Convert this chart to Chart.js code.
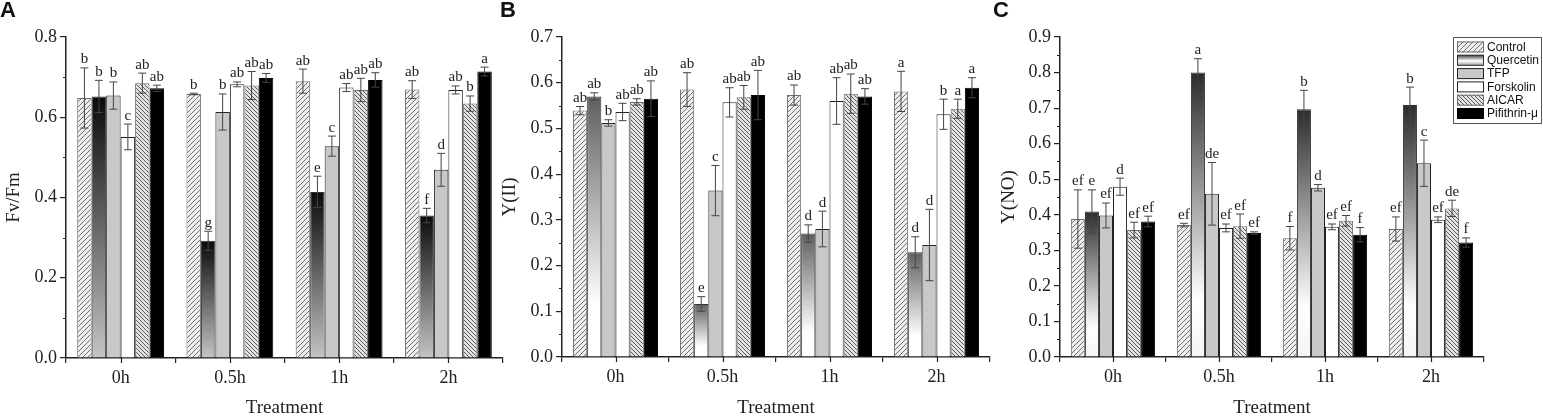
<!DOCTYPE html>
<html>
<head>
<meta charset="utf-8">
<script src="https://cdn.jsdelivr.net/npm/chart.js@4"></script>
<style>
  body { margin: 0; background: #fff; }
  #wrap { position: relative; width: 1543px; height: 419px; overflow: hidden; }
  .panel { position: absolute; top: 0; height: 419px; }
  .tag { position: absolute; top: -3px; font: bold 22px "Liberation Sans", Arial, sans-serif; color: #111; }
</style>
</head>
<body>
<div id="wrap">
  <div class="panel" style="left:0;width:510px"><canvas id="chartA"></canvas></div>
  <div class="panel" style="left:495px;width:505px"><canvas id="chartB"></canvas></div>
  <div class="panel" style="left:995px;width:548px"><canvas id="chartC"></canvas></div>
  <div class="tag" style="left:0">A</div>
  <div class="tag" style="left:500px">B</div>
  <div class="tag" style="left:993px">C</div>
</div>
<script>
const treatments = ['0h', '0.5h', '1h', '2h']
const groups = ['Control', 'Quercetin', 'TFP', 'Forskolin', 'AICAR', 'Pifithrin-μ']

// rows follow groups, columns follow treatments
const fvfmMean = [
    [0.648, 0.658, 0.690, 0.669],
    [0.652, 0.292, 0.414, 0.355],
    [0.654, 0.613, 0.528, 0.469],
    [0.551, 0.682, 0.674, 0.668],
    [0.685, 0.679, 0.668, 0.634],
    [0.672, 0.698, 0.693, 0.714],
]
const fvfmErr = [
    [0.075, 0.002, 0.030, 0.022],
    [0.040, 0.024, 0.039, 0.018],
    [0.034, 0.045, 0.025, 0.041],
    [0.032, 0.006, 0.010, 0.010],
    [0.025, 0.035, 0.029, 0.019],
    [0.008, 0.011, 0.018, 0.011],
]
const fvfmLetters = [
    ['b', 'b', 'ab', 'ab'],
    ['b', 'g', 'e', 'f'],
    ['b', 'b', 'c', 'd'],
    ['c', 'ab', 'ab', 'ab'],
    ['ab', 'ab', 'ab', 'b'],
    ['ab', 'ab', 'ab', 'a'],
]

const yiiMean = [
    [0.539, 0.585, 0.573, 0.581],
    [0.570, 0.116, 0.270, 0.229],
    [0.512, 0.364, 0.280, 0.245],
    [0.536, 0.557, 0.560, 0.531],
    [0.558, 0.568, 0.576, 0.543],
    [0.565, 0.573, 0.570, 0.589],
]
const yiiErr = [
    [0.009, 0.037, 0.022, 0.044],
    [0.008, 0.016, 0.019, 0.034],
    [0.007, 0.055, 0.039, 0.078],
    [0.019, 0.032, 0.051, 0.033],
    [0.007, 0.026, 0.043, 0.021],
    [0.039, 0.054, 0.017, 0.022],
]
const yiiLetters = [
    ['ab', 'ab', 'ab', 'a'],
    ['ab', 'e', 'd', 'd'],
    ['b', 'c', 'd', 'd'],
    ['ab', 'ab', 'ab', 'b'],
    ['ab', 'ab', 'ab', 'a'],
    ['ab', 'ab', 'ab', 'a'],
]

const ynoMean = [
    [0.388, 0.371, 0.334, 0.360],
    [0.409, 0.800, 0.697, 0.709],
    [0.398, 0.459, 0.476, 0.545],
    [0.479, 0.363, 0.366, 0.386],
    [0.357, 0.368, 0.383, 0.418],
    [0.381, 0.349, 0.344, 0.322],
]
const ynoErr = [
    [0.082, 0.005, 0.033, 0.034],
    [0.061, 0.039, 0.053, 0.050],
    [0.035, 0.088, 0.009, 0.065],
    [0.024, 0.011, 0.008, 0.008],
    [0.022, 0.034, 0.015, 0.023],
    [0.015, 0.003, 0.020, 0.013],
]
const ynoLetters = [
    ['ef', 'ef', 'f', 'ef'],
    ['e', 'a', 'b', 'b'],
    ['ef', 'de', 'd', 'c'],
    ['d', 'ef', 'ef', 'ef'],
    ['ef', 'ef', 'ef', 'de'],
    ['ef', 'ef', 'f', 'f'],
]

const serif = '"Liberation Serif", "Times New Roman", serif'
const ink = '#222'

function hatch(bg, fg, size, forward)
{
    const c = document.createElement('canvas')
    c.width = c.height = size
    const g = c.getContext('2d')
    g.fillStyle = bg
    g.fillRect(0, 0, size, size)
    g.strokeStyle = fg
    g.lineWidth = 1
    g.beginPath()
    if(forward)
    {
        g.moveTo(0, size); g.lineTo(size, 0)
        g.moveTo(-1, 1); g.lineTo(1, -1)
        g.moveTo(size - 1, size + 1); g.lineTo(size + 1, size - 1)
    }
    else
    {
        g.moveTo(0, 0); g.lineTo(size, size)
        g.moveTo(size - 1, -1); g.lineTo(size + 1, 1)
        g.moveTo(-1, size - 1); g.lineTo(1, size + 1)
    }
    g.stroke()
    return c.getContext('2d').createPattern(c, 'repeat')
}

const controlFill = hatch('#eeeeee', '#707070', 5, true)
const aicarFill = hatch('#e2e2e2', '#5a5a5a', 4, false)

function gradientFill(stops)
{
    return (c) => {
        const chart = c.chart
        if(!chart.chartArea || c.raw === undefined) return stops[0][1]
        const y = chart.scales.y
        const g = chart.ctx.createLinearGradient(0, y.getPixelForValue(c.raw), 0, y.getPixelForValue(0))
        stops.forEach(([o, col]) => g.addColorStop(o, col))
        return g
    }
}

const borders = ['#6e6e6e', '#333', '#222', '#222', '#6e6e6e', '#000']

const annotate = {
    id: 'annotate',
    afterDatasetsDraw(chart, args, opts)
    {
        const ctx = chart.ctx
        const x = chart.scales.x, y = chart.scales.y
        const area = chart.chartArea
        ctx.save()
        // error bars and letters
        chart.data.datasets.forEach((ds, i) =>
        {
            chart.getDatasetMeta(i).data.forEach((bar, j) =>
            {
                const v = ds.data[j], e = ds.err[j]
                const top = y.getPixelForValue(v + e), bot = y.getPixelForValue(v - e)
                ctx.strokeStyle = '#444'
                ctx.lineWidth = 1
                ctx.beginPath()
                ctx.moveTo(bar.x, top); ctx.lineTo(bar.x, bot)
                ctx.moveTo(bar.x - 4, top); ctx.lineTo(bar.x + 4, top)
                ctx.moveTo(bar.x - 4, bot); ctx.lineTo(bar.x + 4, bot)
                ctx.stroke()
                ctx.fillStyle = ink
                ctx.font = '15px ' + serif
                ctx.textAlign = 'center'
                ctx.textBaseline = 'bottom'
                ctx.fillText(ds.letters[j], bar.x, top - 1)
            })
        })
        // minor y ticks and centre x ticks
        ctx.strokeStyle = ink
        ctx.lineWidth = 1.2
        ctx.beginPath()
        for(let k = 1; k * opts.minor < y.max + 1e-9; k += 2)
        {
            const py = Math.round(y.getPixelForValue(k * opts.minor)) + 0.5
            ctx.moveTo(area.left - 3, py); ctx.lineTo(area.left, py)
        }
        treatments.forEach((t, j) =>
        {
            const px = Math.round(x.getPixelForValue(j)) + 0.5
            ctx.moveTo(px, area.bottom); ctx.lineTo(px, area.bottom + 5)
        })
        ctx.stroke()
        ctx.restore()
    },
    afterDraw(chart, args, opts)
    {
        if(!opts.legend) return
        const ctx = chart.ctx
        const lx = 458, ly = 37, w = 88, h = 86
        ctx.save()
        ctx.strokeStyle = '#555'
        ctx.lineWidth = 1
        ctx.strokeRect(lx + 0.5, ly + 0.5, w, h)
        groups.forEach((name, i) =>
        {
            const cy = ly + 10 + i * 13.3
            const sx = lx + 4, sy = cy - 5.5, sw = 27, sh = 11
            if(i === 1)
            {
                const g = ctx.createLinearGradient(0, sy, 0, sy + sh)
                g.addColorStop(0, '#333'); g.addColorStop(0.55, '#fff'); g.addColorStop(1, '#999')
                ctx.fillStyle = g
            }
            else ctx.fillStyle = chart.data.datasets[i].swatch
            ctx.fillRect(sx, sy, sw, sh)
            ctx.strokeStyle = borders[i]
            ctx.strokeRect(sx + 0.5, sy + 0.5, sw - 1, sh - 1)
            ctx.fillStyle = '#111'
            ctx.font = '12px "Liberation Sans", Arial, sans-serif'
            ctx.textAlign = 'left'
            ctx.textBaseline = 'middle'
            ctx.fillText(name, sx + sw + 3, cy + 0.5)
        })
        ctx.restore()
    }
}

function makeChart(id, mean, err, letters, p)
{
    const fills = [controlFill, gradientFill(p.grad), '#c8c8c8', '#ffffff', aicarFill, '#000000']
    const datasets = groups.map((g, i) => ({
        label: g,
        data: mean[i],
        err: err[i],
        letters: letters[i],
        swatch: fills[i],
        backgroundColor: fills[i],
        borderColor: borders[i],
        borderWidth: 1,
        categoryPercentage: 0.795,
        barPercentage: 1.0,
    }))

    return new Chart(document.getElementById(id), {
        type: 'bar',
        data: { labels: treatments, datasets: datasets },
        plugins: [annotate],
        options: {
            responsive: false,
            animation: false,
            events: [],
            layout: { padding: { top: 37, right: p.right, left: 0, bottom: 0 } },
            scales: {
                x: {
                    afterFit: (s) => { s.height = p.xh },
                    grid: { display: true, offset: true, drawOnChartArea: false, tickLength: 5, color: ink, lineWidth: 1.2 },
                    border: { display: true, color: ink, width: 1.5 },
                    ticks: { color: ink, font: { family: serif, size: 18 }, padding: 4 },
                    title: { display: true, text: 'Treatment', color: ink, font: { family: serif, size: 19 }, padding: { top: 0, bottom: 0 } },
                },
                y: {
                    min: 0,
                    max: p.max,
                    afterFit: (s) => { s.width = p.yw },
                    grid: { display: true, drawOnChartArea: false, tickLength: 6, color: ink, lineWidth: 1.2 },
                    border: { display: true, color: ink, width: 1.5 },
                    ticks: { stepSize: p.step, color: ink, font: { family: serif, size: 18 }, padding: 3, callback: (v) => v.toFixed(1) },
                    title: { display: true, text: p.title, color: ink, font: { family: serif, size: 19 }, padding: { top: p.tpad, bottom: 0 } },
                },
            },
            plugins: {
                legend: { display: false },
                tooltip: { enabled: false },
                annotate: { minor: p.step / 2, legend: p.legend },
            },
        },
    })
}

function size(id, w)
{
    const c = document.getElementById(id)
    c.width = w
    c.height = 419
}
size('chartA', 510)
size('chartB', 505)
size('chartC', 548)

makeChart('chartA', fvfmMean, fvfmErr, fvfmLetters, {
    title: 'Fv/Fm', max: 0.8, step: 0.2, yw: 66, right: 7, xh: 61, tpad: 3,
    grad: [[0, '#0a0a0a'], [1, '#c4c4c4']], legend: false,
})
makeChart('chartB', yiiMean, yiiErr, yiiLetters, {
    title: 'Y(II)', max: 0.7, step: 0.1, yw: 67, right: 10, xh: 62, tpad: 4,
    grad: [[0, '#5e5e5e'], [0.8, '#ffffff'], [1, '#ffffff']], legend: false,
})
makeChart('chartC', ynoMean, ynoErr, ynoLetters, {
    title: 'Y(NO)', max: 0.9, step: 0.1, yw: 65, right: 59, xh: 62, tpad: 3,
    grad: [[0, '#2c2c2c'], [0.8, '#ffffff'], [1, '#f4f4f4']], legend: true,
})
</script>
</body>
</html>
